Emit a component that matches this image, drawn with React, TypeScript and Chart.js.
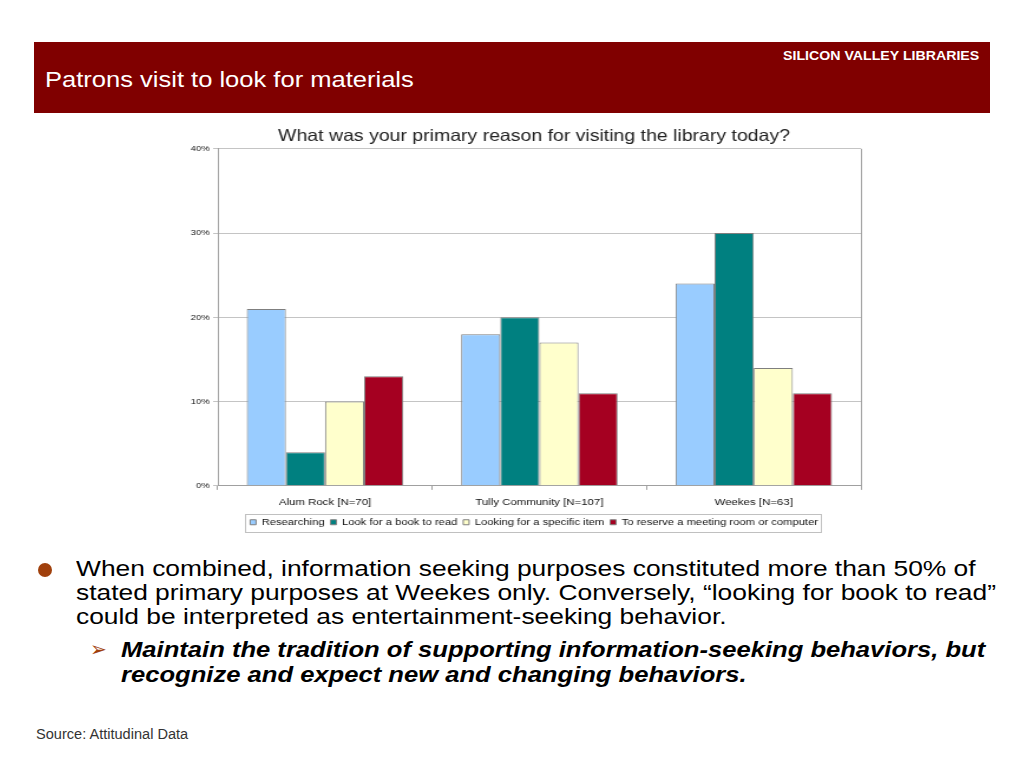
import React, { useEffect, useRef } from "react";
import { Chart, registerables } from "chart.js";

Chart.register(...registerables);

const categories = ["Alum Rock [N=70]", "Tully Community [N=107]", "Weekes [N=63]"];
const seriesNames = [
  "Researching",
  "Look for a book to read",
  "Looking for a specific item",
  "To reserve a meeting room or computer",
];
const researching = [21, 18, 24];
const lookForBook = [4, 20, 30];
const specificItem = [10, 17, 14];
const reserveRoom = [13, 11, 11];
const yTicks = [0, 10, 20, 30, 40];
const seriesColors = ["#99CCFF", "#008080", "#FFFFCC", "#A50021"];

const FONT = "'Liberation Sans', Arial, sans-serif";
const STRETCH = 1.18;

const frameAndLegendBox = {
  id: "frameAndLegendBox",
  afterDraw(chart: any) {
    const ctx = chart.ctx;
    const a = chart.chartArea;
    ctx.save();
    ctx.strokeStyle = "#a0a0a0";
    ctx.lineWidth = 1;
    ctx.beginPath();
    ctx.moveTo(Math.round(a.right) + 0.5, a.top);
    ctx.lineTo(Math.round(a.right) + 0.5, a.bottom);
    ctx.stroke();
    const boxes = chart.legend && chart.legend.legendHitBoxes;
    if (boxes && boxes.length) {
      let l = Infinity, t = Infinity, r = -Infinity, b = -Infinity;
      boxes.forEach((h: any) => {
        l = Math.min(l, h.left);
        t = Math.min(t, h.top);
        r = Math.max(r, h.left + h.width);
        b = Math.max(b, h.top + h.height);
      });
      ctx.strokeStyle = "#c0c0c0";
      ctx.strokeRect(Math.round(l - 4) + 0.5, Math.round(t - 4) + 0.5, Math.round(r - l + 7), Math.round(b - t + 8));
    }
    ctx.restore();
  },
};

function BarChart() {
  const ref = useRef<HTMLCanvasElement>(null);
  useEffect(() => {
    const values = [researching, lookForBook, specificItem, reserveRoom];
    const chart = new Chart(ref.current!, {
      type: "bar",
      data: {
        labels: categories,
        datasets: seriesNames.map((name, i) => ({
          label: name,
          data: values[i],
          backgroundColor: seriesColors[i],
          borderColor: "#7f7f7f",
          borderWidth: 1,
          categoryPercentage: 0.73,
          barPercentage: 1,
        })),
      },
      options: {
        animation: false,
        responsive: false,
        maintainAspectRatio: false,
        layout: { padding: { left: 0, right: 0, top: 0, bottom: 4 } },
        plugins: {
          tooltip: { enabled: false },
          title: {
            display: true,
            text: "What was your primary reason for visiting the library today?",
            color: "#222",
            font: { family: FONT, size: 16.5, weight: "normal" },
            padding: { top: 7, bottom: 2 },
          },
          legend: {
            position: "bottom",
            labels: {
              color: "#111",
              font: { family: FONT, size: 9.5 },
              boxWidth: 5,
              boxHeight: 5,
              padding: 5,
            },
          },
        },
        scales: {
          x: {
            grid: {
              display: true,
              drawOnChartArea: false,
              offset: true,
              tickLength: 4,
              color: "#a0a0a0",
            },
            border: { color: "#a0a0a0" },
            ticks: { color: "#111", font: { family: FONT, size: 9.7 }, padding: 7 },
            afterFit(scale: any) {
              scale.height = scale.height - 3;
            },
          },
          y: {
            min: 0,
            max: 40,
            afterBuildTicks(scale: any) {
              scale.ticks = yTicks.map((v) => ({ value: v }));
            },
            afterFit(scale: any) {
              scale.width = 49;
            },
            grid: { color: "#c4c4c4", tickLength: 4 },
            border: { color: "#a0a0a0" },
            ticks: {
              color: "#111",
              font: { family: FONT, size: 8 },
              padding: 3,
              callback: (v: any) => v + "%",
            },
          },
          yRightSpace: {
            position: "right",
            min: 0,
            max: 40,
            grid: { display: false, drawOnChartArea: false },
            border: { display: false },
            ticks: { display: false },
            afterFit(scale: any) {
              scale.width = 40;
            },
          },
        },
      },
      plugins: [frameAndLegendBox],
    } as any);
    return () => chart.destroy();
  }, []);
  return <canvas ref={ref} width={634} height={421} style={{ width: 634, height: 421, display: "block" }} />;
}

const stretch = (s: number, origin = "left top") => ({ transform: `scaleX(${s})`, transformOrigin: origin, whiteSpace: "nowrap" as const });

export default function App() {
  return (
    <div style={{ position: "absolute", left: 0, top: 0, width: 1024, height: 768, background: "#fff", fontFamily: FONT, overflow: "hidden" }}>
      <div style={{ position: "absolute", left: 34, top: 42, width: 956, height: 71, background: "#800000" }} />
      <div style={{ position: "absolute", right: 45, top: 49, color: "#fff", fontWeight: "bold", fontSize: 12, ...stretch(1.18, "right top") }}>
        SILICON VALLEY LIBRARIES
      </div>
      <div style={{ position: "absolute", left: 45, top: 67, color: "#fff", fontSize: 22, ...stretch(1.16) }}>
        Patrons visit to look for materials
      </div>
      <div style={{ position: "absolute", left: 160, top: 120, ...stretch(STRETCH) }}>
        <BarChart />
      </div>
      <div style={{ position: "absolute", left: 38, top: 563, width: 14, height: 14, borderRadius: 7, background: "#A0400C" }} />
      <div style={{ position: "absolute", left: 76, top: 557, fontSize: 22, lineHeight: "24px", color: "#000", ...stretch(1.198) }}>
        When combined, information seeking purposes constituted more than 50% of
        <br />
        stated primary purposes at Weekes only. Conversely, “looking for book to read”
        <br />
        could be interpreted as entertainment-seeking behavior.
      </div>
      <div style={{ position: "absolute", left: 90, top: 637, fontSize: 20, color: "#A0400C" }}>➢</div>
      <div style={{ position: "absolute", left: 121, top: 637, fontSize: 22, lineHeight: "25px", fontWeight: "bold", fontStyle: "italic", color: "#000", ...stretch(1.163) }}>
        Maintain the tradition of supporting information-seeking behaviors, but
        <br />
        recognize and expect new and changing behaviors.
      </div>
      <div style={{ position: "absolute", left: 36, top: 726, fontSize: 14, color: "#333", ...stretch(1.04) }}>Source: Attitudinal Data</div>
    </div>
  );
}
